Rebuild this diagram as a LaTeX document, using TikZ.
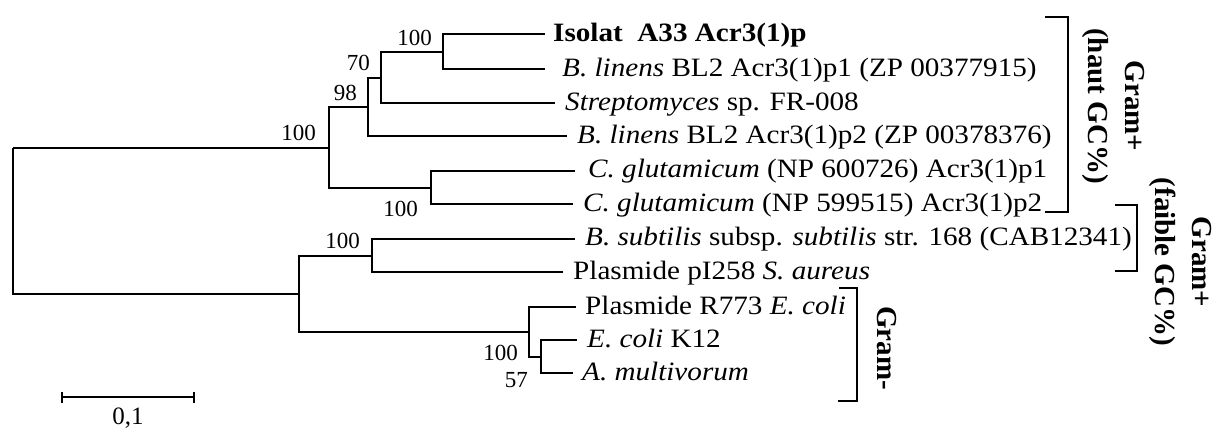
\documentclass[tikz,border=0pt]{standalone}
\usepackage{fontspec}
\setmainfont{Liberation Serif}
\newfontfamily\leaffont[FakeStretch=1.1]{Liberation Serif}
\begin{document}
\begin{tikzpicture}[x=1pt,y=-1pt,
  br/.style={line width=1.7pt},
  leaf/.style={font=\leaffont\fontsize{26.5}{30}\selectfont,anchor=base west,inner sep=0pt},
  boot/.style={font=\fontsize{23}{26}\selectfont,anchor=base east,inner sep=0pt},
  grp/.style={font=\bfseries\fontsize{29}{37}\selectfont,rotate=-90,align=center,inner sep=0pt},
  scl/.style={font=\fontsize{25}{28}\selectfont,anchor=base,inner sep=0pt}]
\useasboundingbox (0,0) rectangle (1214,431);
% internal nodes
\coordinate (root) at (13,148);
\coordinate (up) at (329,148);
\coordinate (n98) at (368,107);
\coordinate (n70) at (381,78);
\coordinate (nA) at (443,52);
\coordinate (nC) at (431,187.7);
\coordinate (low) at (299,293.7);
\coordinate (nS) at (372,255.7);
\coordinate (nG) at (529,331.7);
\coordinate (nE) at (541,356.7);
% leaf line ends
\coordinate (e1) at (545,34.3);
\coordinate (e2) at (545,69);
\coordinate (e3) at (555,103);
\coordinate (e4) at (567,136.3);
\coordinate (e5) at (575,170.7);
\coordinate (e6) at (573,204);
\coordinate (e7) at (575,238.7);
\coordinate (e8) at (563,272);
\coordinate (e9) at (576,306.7);
\coordinate (e10) at (577,340);
\coordinate (e11) at (573,373.3);
% branches
\draw[br] (root) |- (up);
\draw[br] (root) |- (low);
\draw[br] (up) |- (n98);
\draw[br] (up) |- (nC);
\draw[br] (n98) |- (n70);
\draw[br] (n98) |- (e4);
\draw[br] (n70) |- (nA);
\draw[br] (n70) |- (e3);
\draw[br] (nA) |- (e1);
\draw[br] (nA) |- (e2);
\draw[br] (nC) |- (e5);
\draw[br] (nC) |- (e6);
\draw[br] (low) |- (nS);
\draw[br] (low) |- (nG);
\draw[br] (nS) |- (e7);
\draw[br] (nS) |- (e8);
\draw[br] (nG) |- (e9);
\draw[br] (nG) |- (nE);
\draw[br] (nE) |- (e10);
\draw[br] (nE) |- (e11);
% leaf labels
\node[leaf] (t1) at (553,41.3) {\bfseries Isolat~~A33 Acr3(1)p};
\node[leaf] (t2) at (562,76) {\itshape B. linens\upshape{} BL2 Acr3(1)p1 (ZP 00377915)};
\node[leaf] (t3) at (565,110) {\itshape Streptomyces\upshape{} sp. FR-008};
\node[leaf] (t4) at (577,143.3) {\itshape B. linens\upshape{} BL2 Acr3(1)p2 (ZP 00378376)};
\node[leaf] (t5) at (588,177.7) {\itshape C. glutamicum\upshape{} (NP 600726) Acr3(1)p1};
\node[leaf] (t6) at (583,211) {\itshape C. glutamicum\upshape{} (NP 599515) Acr3(1)p2};
\node[leaf] (t7) at (585,245.7) {\itshape B. subtilis\upshape{} subsp. \itshape subtilis\upshape{} str. 168 (CAB12341)};
\node[leaf] (t8) at (573,279) {Plasmide pI258 \itshape S. aureus};
\node[leaf] (t9) at (585,314) {Plasmide R773 \itshape E. coli};
\node[leaf] (t10) at (587,347) {\itshape E. coli\upshape{} K12};
\node[leaf] (t11) at (582,380.3) {\itshape A. multivorum};
% bootstrap values
\node[boot] (b1) at (432,45) {100};
\node[boot] (b2) at (370,70) {70};
\node[boot] (b3) at (357,100) {98};
\node[boot] (b4) at (316,140) {100};
\node[boot] (b5) at (418,216) {100};
\node[boot] (b6) at (360,248) {100};
\node[boot] (b7) at (518,360) {100};
\node[boot] (b8) at (528,387) {57};
% brackets
\coordinate (k1a) at (1045,16.7);
\coordinate (k1b) at (1068,212.3);
\coordinate (k1c) at (1045,212.3);
\draw[br] (k1a) -| (k1b) -- (k1c);
\coordinate (k2a) at (1115,205);
\coordinate (k2b) at (1137.3,271);
\coordinate (k2c) at (1115,271);
\draw[br] (k2a) -| (k2b) -- (k2c);
\coordinate (k3a) at (839,288.3);
\coordinate (k3b) at (857.3,401);
\coordinate (k3c) at (838,401);
\draw[br] (k3a) -| (k3b) -- (k3c);
% group labels
\node[grp] (g1) at (1113.5,106) {Gram+\\(haut GC\%)};
\node[grp] (g2) at (1180,262) {Gram+\\(faible GC\%)};
\node[grp] (g3) at (887,348) {Gram-};
% scale bar
\coordinate (s1) at (62,397);
\coordinate (s2) at (194,397);
\draw[br] (s1) -- (s2);
\draw[br] ([yshift=-5.5pt]s1) -- ([yshift=5.5pt]s1);
\draw[br] ([yshift=-5.5pt]s2) -- ([yshift=5.5pt]s2);
\node[scl] (sl) at (128,424) {0,1};
\end{tikzpicture}
\end{document}
